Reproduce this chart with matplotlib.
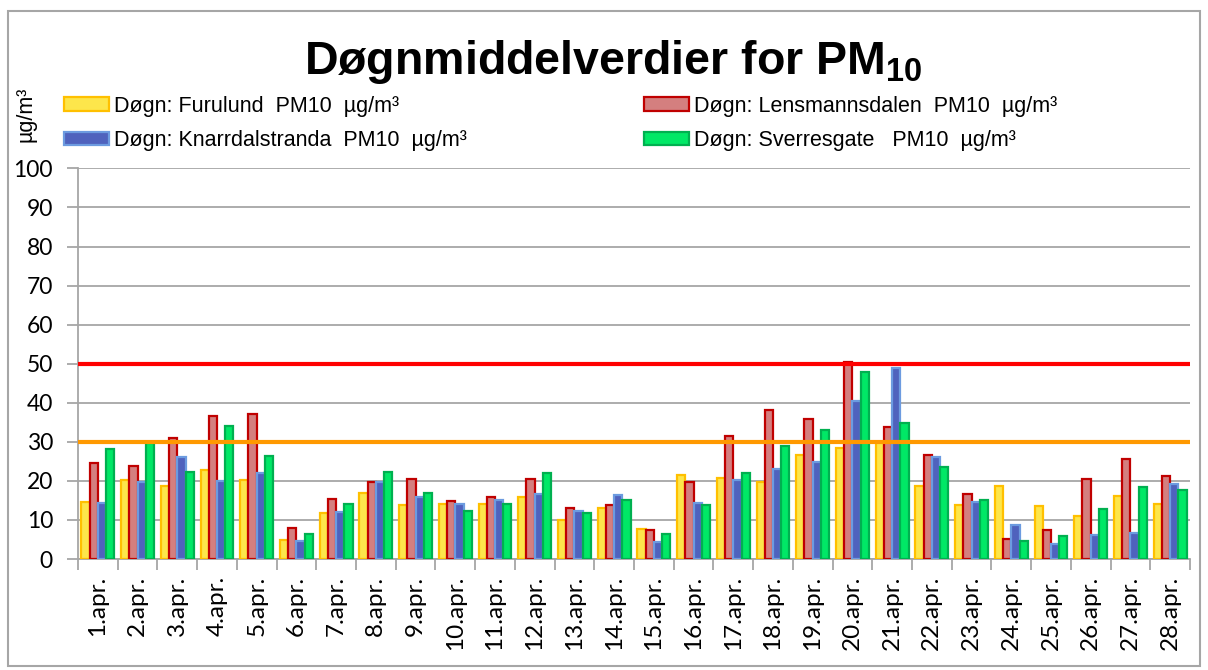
import numpy as np
import matplotlib.pyplot as plt
from matplotlib.patches import Patch, Rectangle

plt.rcParams["mathtext.fontset"] = "custom"
plt.rcParams["mathtext.rm"] = "Liberation Sans"
plt.rcParams["mathtext.bf"] = "Liberation Sans:bold"

days = [f"{d}.apr." for d in range(1, 29)]

furulund = [14.5, 20.3, 18.6, 22.8, 20.2, 4.9, 11.8, 16.8, 13.7, 14.2,
            14.0, 16.0, 10.0, 13.0, 7.7, 21.6, 20.7, 19.7, 26.6, 28.5,
            30.0, 18.8, 13.8, 18.6, 13.5, 10.9, 16.1, 14.2]
lensmannsdalen = [24.7, 23.7, 31.1, 36.7, 37.0, 7.9, 15.4, 19.8, 20.6, 14.8,
                  16.0, 20.4, 13.0, 13.8, 7.5, 19.6, 31.5, 38.1, 35.8, 50.5,
                  33.8, 26.5, 16.7, 5.2, 7.5, 20.6, 25.6, 21.3]
knarrdalstranda = [14.3, 19.8, 26.0, 20.0, 22.0, 4.7, 12.0, 19.6, 16.0, 14.2,
                   15.0, 16.6, 12.4, 16.4, 4.4, 14.4, 20.1, 23.1, 24.9, 40.5,
                   48.9, 26.0, 14.7, 8.8, 3.8, 6.1, 6.6, 19.3]
sverresgate = [28.2, 29.8, 22.3, 34.0, 26.4, 6.3, 14.0, 22.2, 17.0, 12.3,
               14.2, 22.0, 11.8, 15.0, 6.3, 13.9, 22.1, 28.9, 32.9, 47.8,
               34.7, 23.5, 15.2, 4.6, 5.8, 12.9, 18.4, 17.6]

limit_high = 50
limit_low = 30

labels = ["Døgn: Furulund  PM10  µg/m³",
          "Døgn: Lensmannsdalen  PM10  µg/m³",
          "Døgn: Knarrdalstranda  PM10  µg/m³",
          "Døgn: Sverresgate   PM10  µg/m³"]
series = [furulund, lensmannsdalen, knarrdalstranda, sverresgate]
faces = ["#FDE64B", "#D47F7F", "#4F62BD", "#00E866"]
edges = ["#FFC000", "#C00000", "#6C9BE0", "#00B050"]

fig = plt.figure(figsize=(12.08, 6.7), dpi=100)
ax = fig.add_axes([78 / 1208, 1 - 559 / 670, (1190 - 78) / 1208, (559 - 168.4) / 670])

# outer chart frame
fig.patches.append(Rectangle((8 / 1208, 4 / 670), 1192 / 1208, 655 / 670,
                             transform=fig.transFigure, fill=False,
                             edgecolor="#A6A6A6", linewidth=1.5))

x = np.arange(len(days))
w = 0.83 / 4
for i, (vals, fc, ec) in enumerate(zip(series, faces, edges)):
    ax.bar(x - 0.415 + w * (i + 0.5), vals, width=w, color=fc,
           edgecolor=ec, linewidth=1.6, zorder=3)

ax.axhline(limit_high, color="#FF0000", linewidth=3, zorder=4)
ax.axhline(limit_low, color="#FF9900", linewidth=3, zorder=4)

ax.set_xlim(-0.5, len(days) - 0.5)
ax.set_ylim(0, 100)
ax.set_yticks(range(0, 101, 10))
ax.yaxis.grid(True, color="#A6A6A6", linewidth=1.3, zorder=0)

ax.set_xticks(x)
ax.set_xticklabels(days, rotation=90, fontfamily="Lato", fontsize=17.5)
ax.set_xticks(np.arange(-0.5, len(days)), minor=True)
ax.tick_params(axis="x", which="major", length=0, pad=12)
ax.tick_params(axis="x", which="minor", length=8, color="#A6A6A6", width=1.3)
ax.tick_params(axis="y", length=8, color="#A6A6A6", width=1.3, pad=10)
for t in ax.get_yticklabels():
    t.set_fontfamily("Lato")
    t.set_fontsize(16.5)

for s in ["top", "right"]:
    ax.spines[s].set_visible(False)
for s in ["left", "bottom"]:
    ax.spines[s].set_color("#A6A6A6")
    ax.spines[s].set_linewidth(1.3)

fig.text(613 / 1208, 1 - 62 / 670, "Døgnmiddelverdier for PM$_{\\mathbf{10}}$",
         ha="center", va="center", fontsize=33.5, fontweight="bold",
         fontfamily="Liberation Sans")

fig.text(26 / 1208, 1 - 114 / 670, "µg/m³", rotation=90, ha="center",
         va="center", fontsize=15.5, fontfamily="Liberation Sans")

handles = [Patch(facecolor=fc, edgecolor=ec, linewidth=1.6) for fc, ec in zip(faces, edges)]
leg_kw = dict(frameon=False, handlelength=2.1, handleheight=0.6,
              handletextpad=0.25, labelspacing=0.62, borderpad=0,
              prop={"family": "Liberation Sans", "size": 15.5})
fig.legend([handles[0], handles[2]], [labels[0], labels[2]], loc="upper left",
           bbox_to_anchor=(53 / 1208, 1 - 85 / 670), **leg_kw)
fig.legend([handles[1], handles[3]], [labels[1], labels[3]], loc="upper left",
           bbox_to_anchor=(633 / 1208, 1 - 85 / 670), **leg_kw)

fig.savefig("out.png", dpi=100)
